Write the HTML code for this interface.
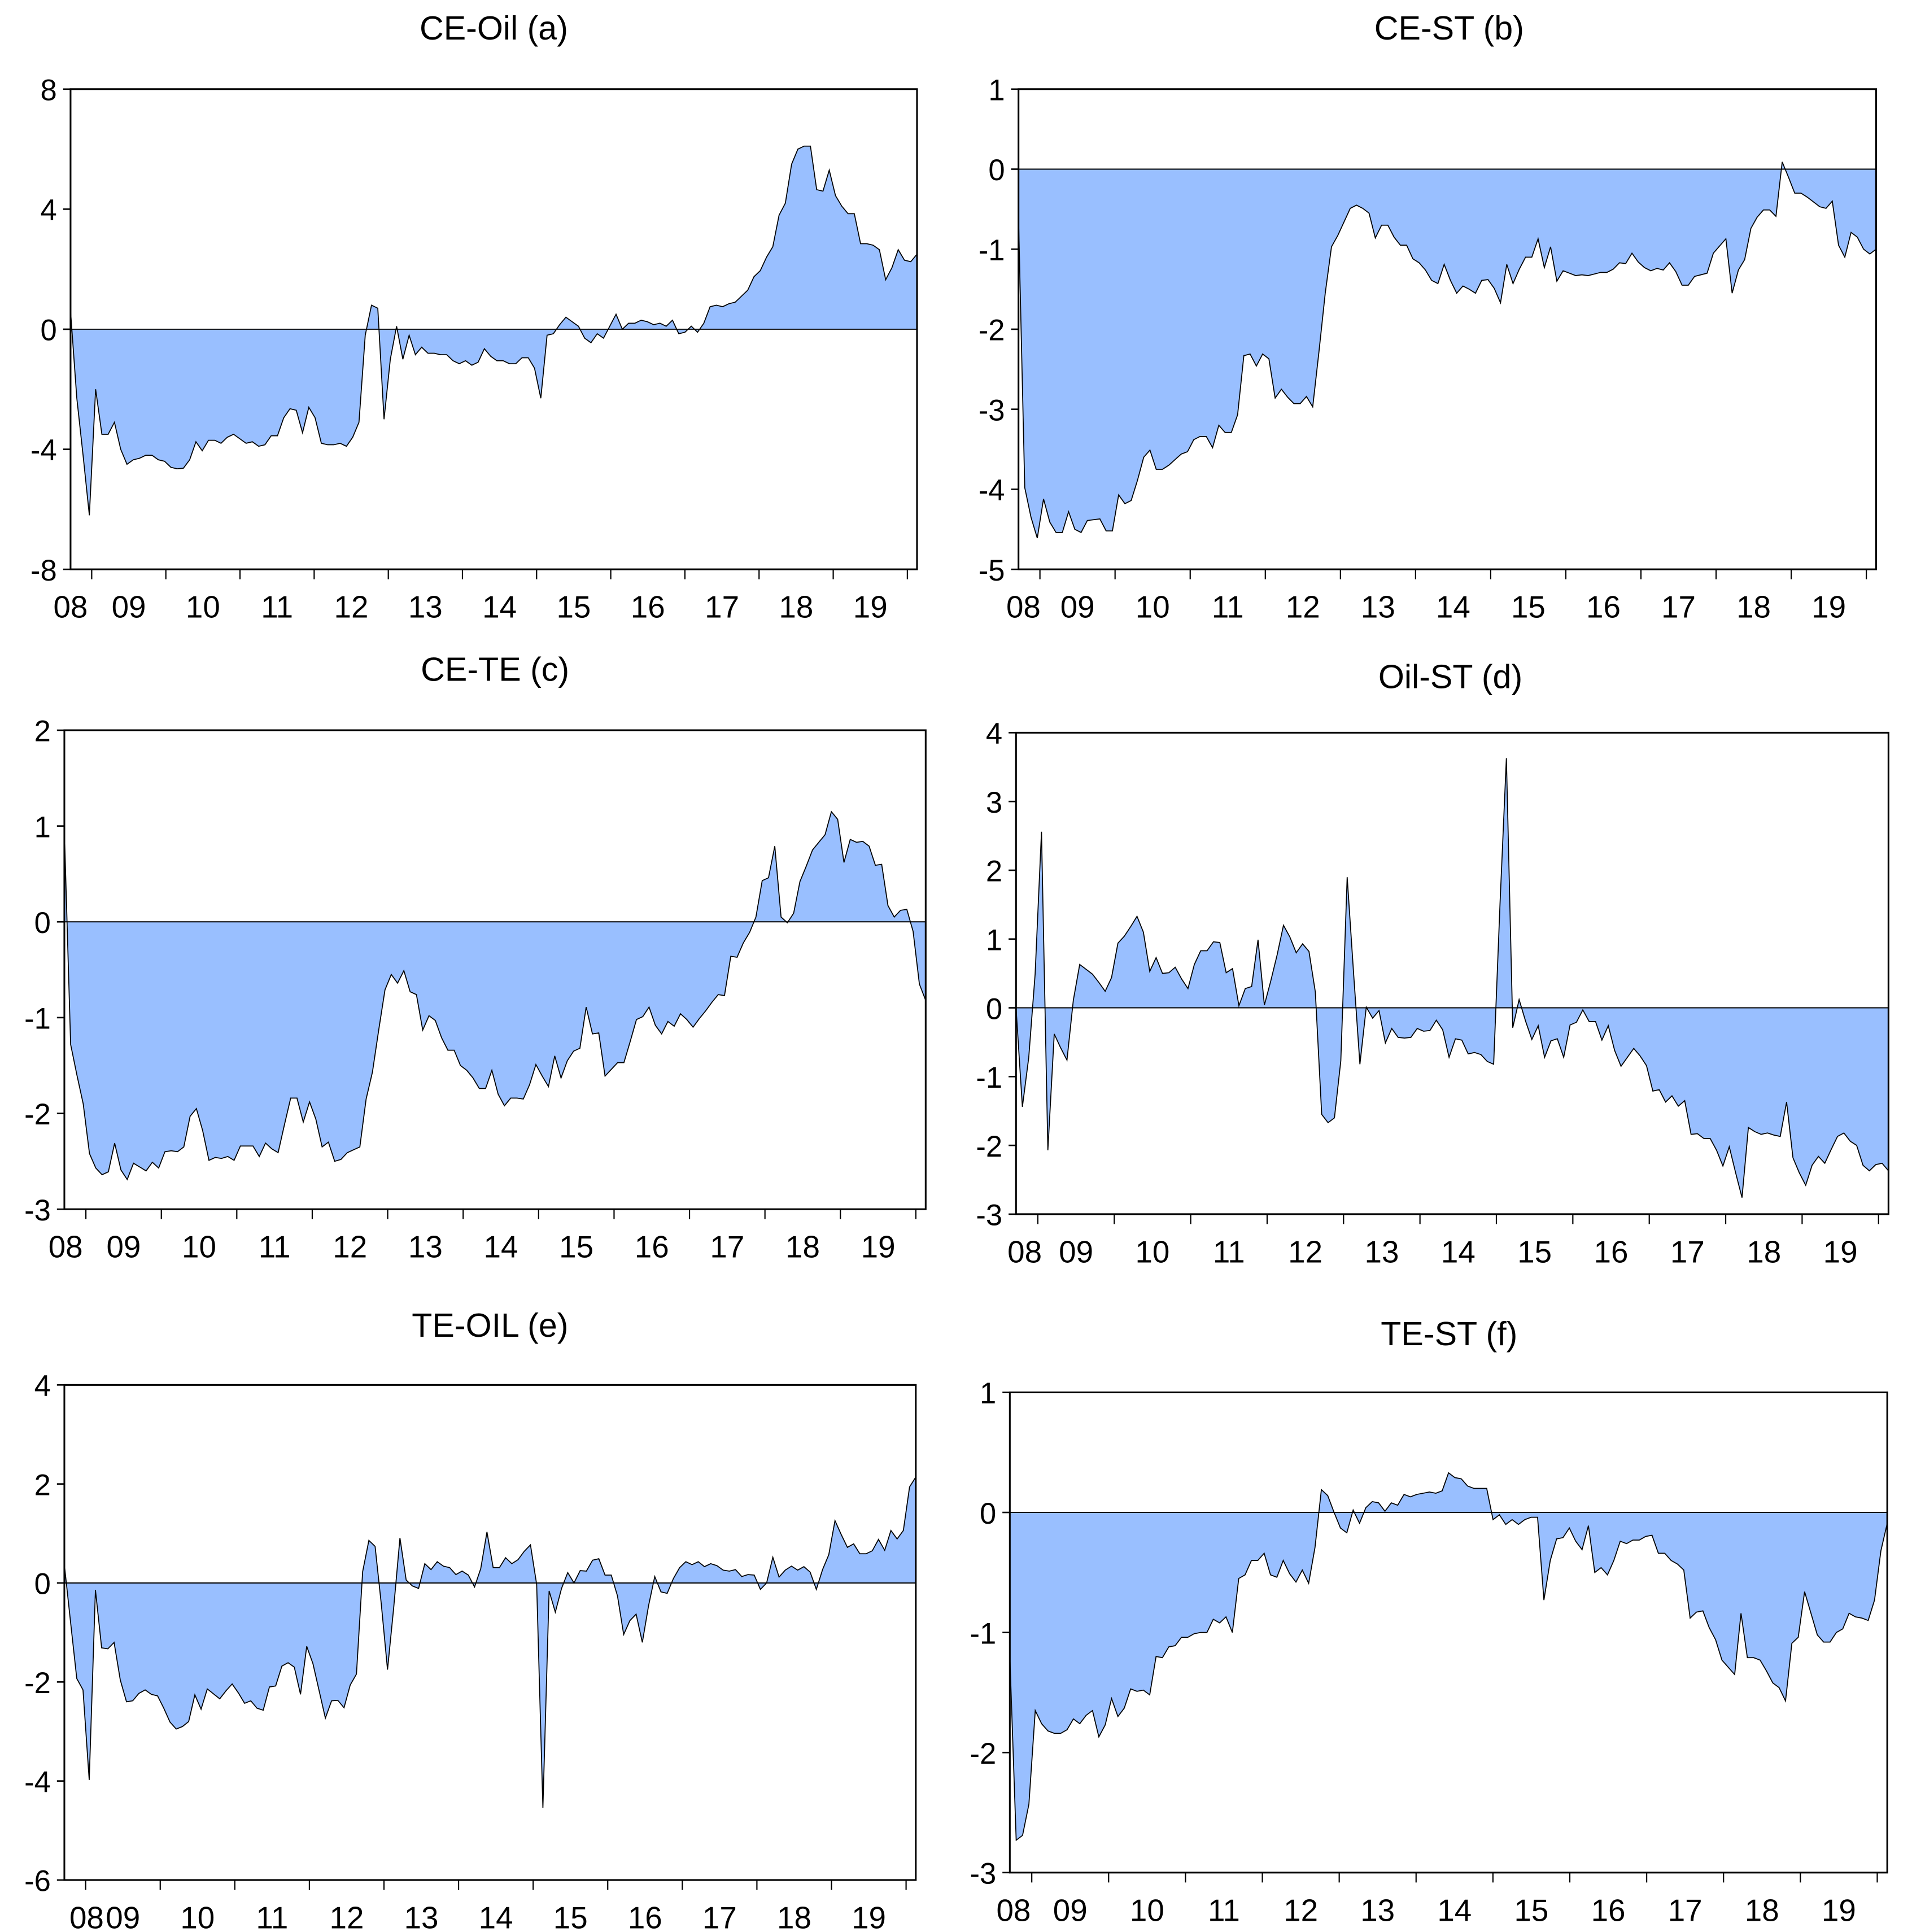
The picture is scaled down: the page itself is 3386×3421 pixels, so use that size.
<!DOCTYPE html>
<html><head><meta charset="utf-8"><title>Net connectedness panels</title>
<style>
html,body{margin:0;padding:0;background:#fff;}
svg{display:block;}
text{font-family:"Liberation Sans",Arial,sans-serif;fill:#000;}
</style></head>
<body>
<svg id="chart" width="3386" height="3421" viewBox="0 0 1545 1561" preserveAspectRatio="none" xmlns="http://www.w3.org/2000/svg"></svg>
<script>
// ---- data ----
const yearLabels = ["09","10","11","12","13","14","15","16","17","18","19"];
const startLabel = "08";
const titles = ["CE-Oil (a)","CE-ST (b)","CE-TE (c)","Oil-ST (d)","TE-OIL (e)","TE-ST (f)"];
const yTicksA = [8,4,0,-4,-8];
const yTicksB = [1,0,-1,-2,-3,-4,-5];
const yTicksC = [2,1,0,-1,-2,-3];
const yTicksD = [4,3,2,1,0,-1,-2,-3];
const yTicksE = [4,2,0,-2,-4,-6];
const yTicksF = [1,0,-1,-2,-3];
const valuesA = [0.6,-2.3,-4.2,-6.2,-2.0,-3.5,-3.5,-3.1,-4.0,-4.5,-4.35,-4.3,-4.2,-4.2,-4.35,-4.4,-4.6,-4.65,-4.63,-4.35,-3.75,-4.05,-3.7,-3.7,-3.8,-3.6,-3.5,-3.65,-3.8,-3.75,-3.9,-3.85,-3.55,-3.55,-2.95,-2.65,-2.7,-3.45,-2.6,-2.95,-3.8,-3.85,-3.85,-3.8,-3.9,-3.6,-3.1,-0.2,0.8,0.7,-3.0,-1.0,0.1,-1.0,-0.2,-0.85,-0.6,-0.8,-0.8,-0.85,-0.85,-1.05,-1.15,-1.05,-1.2,-1.1,-0.65,-0.9,-1.05,-1.05,-1.15,-1.15,-0.95,-0.95,-1.3,-2.3,-0.2,-0.15,0.15,0.4,0.25,0.1,-0.3,-0.45,-0.15,-0.3,0.1,0.5,0,0.2,0.2,0.3,0.25,0.15,0.2,0.1,0.3,-0.15,-0.1,0.1,-0.1,0.2,0.75,0.8,0.75,0.85,0.9,1.1,1.3,1.75,1.95,2.4,2.75,3.8,4.2,5.5,6.0,6.1,6.1,4.65,4.6,5.3,4.45,4.1,3.85,3.85,2.85,2.85,2.8,2.65,1.65,2.05,2.65,2.3,2.25,2.5];
const valuesB = [-0.6,-3.98,-4.35,-4.61,-4.12,-4.41,-4.54,-4.54,-4.28,-4.5,-4.54,-4.39,-4.38,-4.37,-4.52,-4.52,-4.07,-4.18,-4.14,-3.89,-3.6,-3.51,-3.75,-3.75,-3.7,-3.63,-3.56,-3.53,-3.38,-3.34,-3.34,-3.48,-3.2,-3.29,-3.29,-3.07,-2.33,-2.31,-2.46,-2.31,-2.37,-2.86,-2.75,-2.85,-2.93,-2.93,-2.84,-2.97,-2.28,-1.55,-0.97,-0.83,-0.66,-0.49,-0.45,-0.49,-0.55,-0.86,-0.7,-0.7,-0.85,-0.95,-0.95,-1.12,-1.17,-1.26,-1.39,-1.43,-1.19,-1.39,-1.55,-1.46,-1.5,-1.55,-1.39,-1.38,-1.49,-1.67,-1.19,-1.43,-1.25,-1.1,-1.1,-0.87,-1.23,-0.97,-1.4,-1.27,-1.3,-1.33,-1.32,-1.33,-1.31,-1.29,-1.29,-1.25,-1.17,-1.18,-1.05,-1.16,-1.23,-1.27,-1.24,-1.26,-1.17,-1.28,-1.45,-1.45,-1.34,-1.32,-1.3,-1.05,-0.96,-0.87,-1.55,-1.26,-1.13,-0.74,-0.6,-0.51,-0.51,-0.59,0.09,-0.1,-0.3,-0.3,-0.35,-0.41,-0.47,-0.49,-0.4,-0.95,-1.1,-0.79,-0.85,-1.0,-1.06,-1.0];
const valuesC = [0.95,-1.28,-1.6,-1.9,-2.42,-2.57,-2.64,-2.61,-2.31,-2.59,-2.69,-2.52,-2.56,-2.6,-2.51,-2.57,-2.4,-2.39,-2.4,-2.35,-2.03,-1.95,-2.18,-2.49,-2.46,-2.47,-2.45,-2.49,-2.34,-2.34,-2.34,-2.45,-2.31,-2.37,-2.41,-2.12,-1.84,-1.84,-2.09,-1.88,-2.06,-2.35,-2.3,-2.5,-2.48,-2.41,-2.38,-2.35,-1.85,-1.57,-1.13,-0.71,-0.55,-0.64,-0.51,-0.73,-0.76,-1.13,-0.98,-1.03,-1.21,-1.34,-1.34,-1.5,-1.55,-1.63,-1.74,-1.74,-1.55,-1.8,-1.92,-1.84,-1.84,-1.85,-1.7,-1.49,-1.61,-1.72,-1.4,-1.63,-1.45,-1.35,-1.32,-0.89,-1.17,-1.16,-1.61,-1.54,-1.47,-1.47,-1.25,-1.02,-0.99,-0.89,-1.08,-1.17,-1.04,-1.09,-0.96,-1.02,-1.1,-1.01,-0.93,-0.84,-0.76,-0.77,-0.36,-0.37,-0.22,-0.11,0.05,0.43,0.46,0.79,0.05,-0.01,0.09,0.42,0.58,0.75,0.83,0.91,1.15,1.07,0.62,0.86,0.83,0.84,0.79,0.59,0.6,0.17,0.05,0.12,0.13,-0.1,-0.65,-0.82];
const valuesD = [0.0,-1.44,-0.72,0.49,2.56,-2.07,-0.38,-0.58,-0.76,0.11,0.63,0.56,0.49,0.37,0.24,0.44,0.94,1.04,1.18,1.33,1.1,0.53,0.73,0.5,0.51,0.59,0.42,0.28,0.63,0.83,0.83,0.96,0.95,0.51,0.57,0.03,0.28,0.31,0.99,0.04,0.39,0.77,1.2,1.03,0.8,0.93,0.82,0.23,-1.55,-1.67,-1.6,-0.77,1.9,0.51,-0.82,0.01,-0.15,-0.04,-0.51,-0.3,-0.43,-0.44,-0.43,-0.3,-0.34,-0.33,-0.18,-0.32,-0.72,-0.45,-0.47,-0.67,-0.65,-0.68,-0.78,-0.82,1.51,3.63,-0.29,0.12,-0.19,-0.46,-0.26,-0.72,-0.48,-0.45,-0.72,-0.25,-0.21,-0.03,-0.2,-0.2,-0.47,-0.26,-0.62,-0.85,-0.72,-0.59,-0.7,-0.84,-1.21,-1.19,-1.37,-1.28,-1.43,-1.35,-1.84,-1.83,-1.9,-1.9,-2.07,-2.3,-2.02,-2.4,-2.76,-1.74,-1.8,-1.84,-1.82,-1.85,-1.87,-1.37,-2.18,-2.4,-2.58,-2.29,-2.16,-2.26,-2.06,-1.87,-1.82,-1.94,-2.0,-2.29,-2.37,-2.28,-2.26,-2.37];
const valuesE = [0.37,-0.79,-1.93,-2.16,-3.98,-0.14,-1.31,-1.33,-1.2,-1.96,-2.4,-2.38,-2.23,-2.16,-2.25,-2.28,-2.53,-2.81,-2.95,-2.9,-2.8,-2.26,-2.55,-2.14,-2.24,-2.34,-2.18,-2.04,-2.22,-2.43,-2.38,-2.53,-2.57,-2.1,-2.08,-1.68,-1.61,-1.7,-2.25,-1.28,-1.63,-2.18,-2.73,-2.38,-2.37,-2.52,-2.06,-1.84,0.23,0.86,0.74,-0.43,-1.75,-0.49,0.91,0.06,-0.06,-0.11,0.39,0.27,0.43,0.34,0.31,0.17,0.24,0.16,-0.08,0.29,1.03,0.31,0.31,0.51,0.39,0.47,0.64,0.77,-0.03,-4.54,-0.16,-0.59,-0.11,0.21,0,0.25,0.24,0.46,0.49,0.16,0.16,-0.26,-1.04,-0.76,-0.63,-1.2,-0.46,0.13,-0.18,-0.21,0.09,0.31,0.43,0.37,0.43,0.33,0.39,0.35,0.26,0.24,0.27,0.13,0.17,0.16,-0.13,0,0.52,0.12,0.26,0.34,0.26,0.33,0.22,-0.13,0.27,0.57,1.26,0.98,0.72,0.79,0.59,0.59,0.65,0.88,0.66,1.06,0.89,1.06,1.94,2.14];
const valuesF = [-1.2,-2.73,-2.69,-2.43,-1.65,-1.76,-1.82,-1.84,-1.84,-1.81,-1.72,-1.76,-1.69,-1.65,-1.87,-1.77,-1.55,-1.7,-1.63,-1.47,-1.49,-1.48,-1.52,-1.2,-1.21,-1.12,-1.11,-1.04,-1.04,-1.01,-1.0,-1.0,-0.89,-0.92,-0.87,-1.0,-0.55,-0.52,-0.4,-0.4,-0.34,-0.52,-0.54,-0.4,-0.51,-0.58,-0.48,-0.59,-0.29,0.19,0.14,0,-0.13,-0.17,0.02,-0.09,0.04,0.09,0.08,0.01,0.08,0.06,0.15,0.13,0.15,0.16,0.17,0.16,0.18,0.33,0.29,0.28,0.22,0.2,0.2,0.2,-0.06,-0.02,-0.1,-0.06,-0.1,-0.06,-0.04,-0.04,-0.73,-0.4,-0.22,-0.21,-0.13,-0.24,-0.31,-0.11,-0.5,-0.46,-0.52,-0.4,-0.24,-0.26,-0.23,-0.23,-0.2,-0.19,-0.34,-0.34,-0.4,-0.43,-0.48,-0.88,-0.83,-0.82,-0.96,-1.06,-1.23,-1.29,-1.35,-0.84,-1.21,-1.21,-1.23,-1.32,-1.42,-1.46,-1.57,-1.09,-1.04,-0.66,-0.84,-1.02,-1.08,-1.08,-1.0,-0.97,-0.84,-0.87,-0.88,-0.9,-0.73,-0.32,-0.09];

// ---- layout ----
const panels = [
  {id:"a", L:57, R:741, T:72, B:460, ymin:-8, ymax:8, ticks:yTicksA, vals:valuesA, tx:399, ty:32, lab08:57},
  {id:"b", L:823, R:1516, T:72, B:460, ymin:-5, ymax:1, ticks:yTicksB, vals:valuesB, tx:1171, ty:32, lab08:827},
  {id:"c", L:52, R:748, T:590, B:977, ymin:-3, ymax:2, ticks:yTicksC, vals:valuesC, tx:400, ty:550, lab08:53},
  {id:"d", L:821, R:1526, T:592, B:981, ymin:-3, ymax:4, ticks:yTicksD, vals:valuesD, tx:1172, ty:556, lab08:828},
  {id:"e", L:52, R:740, T:1119, B:1519, ymin:-6, ymax:4, ticks:yTicksE, vals:valuesE, tx:396, ty:1080, lab08:70},
  {id:"f", L:816, R:1525, T:1125, B:1513, ymin:-3, ymax:1, ticks:yTicksF, vals:valuesF, tx:1171, ty:1087, lab08:819}
];
const NS = "http://www.w3.org/2000/svg";
const svg = document.getElementById("chart");
function mk(tag, attrs, parent){
  const e = document.createElementNS(NS, tag);
  for (const k in attrs) e.setAttribute(k, attrs[k]);
  (parent||svg).appendChild(e);
  return e;
}
panels.forEach((p, pi) => {
  const g = mk("g", {});
  
  
  const W = p.R - p.L;
  const yS = v => p.B - (v - p.ymin) / (p.ymax - p.ymin) * (p.B - p.T);
  const xS = i => p.L + i / (p.vals.length - 1) * W;
  const y0 = yS(0);
  let pts = xS(0).toFixed(2) + "," + y0.toFixed(2) + " ";
  let line = "";
  p.vals.forEach((v, i) => {
    const s = xS(i).toFixed(2) + "," + yS(v).toFixed(2) + " ";
    pts += s; line += s;
  });
  pts += xS(p.vals.length - 1).toFixed(2) + "," + y0.toFixed(2);
  const area = mk("polygon", {points: pts, fill: "#99bfff", stroke: "none"}, g);
  
  
  const zl = mk("line", {x1: p.L, x2: p.R, y1: y0, y2: y0, stroke: "#000", "stroke-width": 0.9}, g);
  
  
  const pl = mk("polyline", {points: line, fill: "none", stroke: "#000", "stroke-width": 0.8}, g);
  
  
  const box = mk("rect", {x: p.L, y: p.T, width: W, height: p.B - p.T, fill: "none", stroke: "#000", "stroke-width": 1.4}, g);
  
  
  p.ticks.forEach(t => {
    const y = yS(t);
    const tk = mk("line", {x1: p.L - 6, x2: p.L, y1: y, y2: y, stroke: "#000", "stroke-width": 1.2}, g);
    
    
    const tl = mk("text", {x: p.L - 11, y: y + 9, "text-anchor": "end", "font-size": 24}, g);
    tl.textContent = t;
    
    
  });
  const f0 = 0.025, fs = 0.0876;
  for (let k = 0; k < 12; k++) {
    const x = p.L + (f0 + k * fs) * W;
    if (x > p.R + 0.5) break;
    const tk = mk("line", {x1: x, x2: x, y1: p.B, y2: p.B + 8, stroke: "#000", "stroke-width": 1}, g);
    
    
  }
  yearLabels.forEach((lab, k) => {
    const x = p.L + (f0 + (k + 0.5) * fs) * W;
    const tl = mk("text", {x: x, y: p.B + 39, "text-anchor": "middle", "font-size": 25}, g);
    tl.textContent = lab;
    
    
  });
  const l8 = mk("text", {x: p.lab08, y: p.B + 39, "text-anchor": "middle", "font-size": 25}, g);
  l8.textContent = startLabel;
  
  
  const tt = mk("text", {x: p.tx, y: p.ty, "text-anchor": "middle", "font-size": 27}, g);
  tt.textContent = titles[pi];
  
  
});
</script>
</body></html>
